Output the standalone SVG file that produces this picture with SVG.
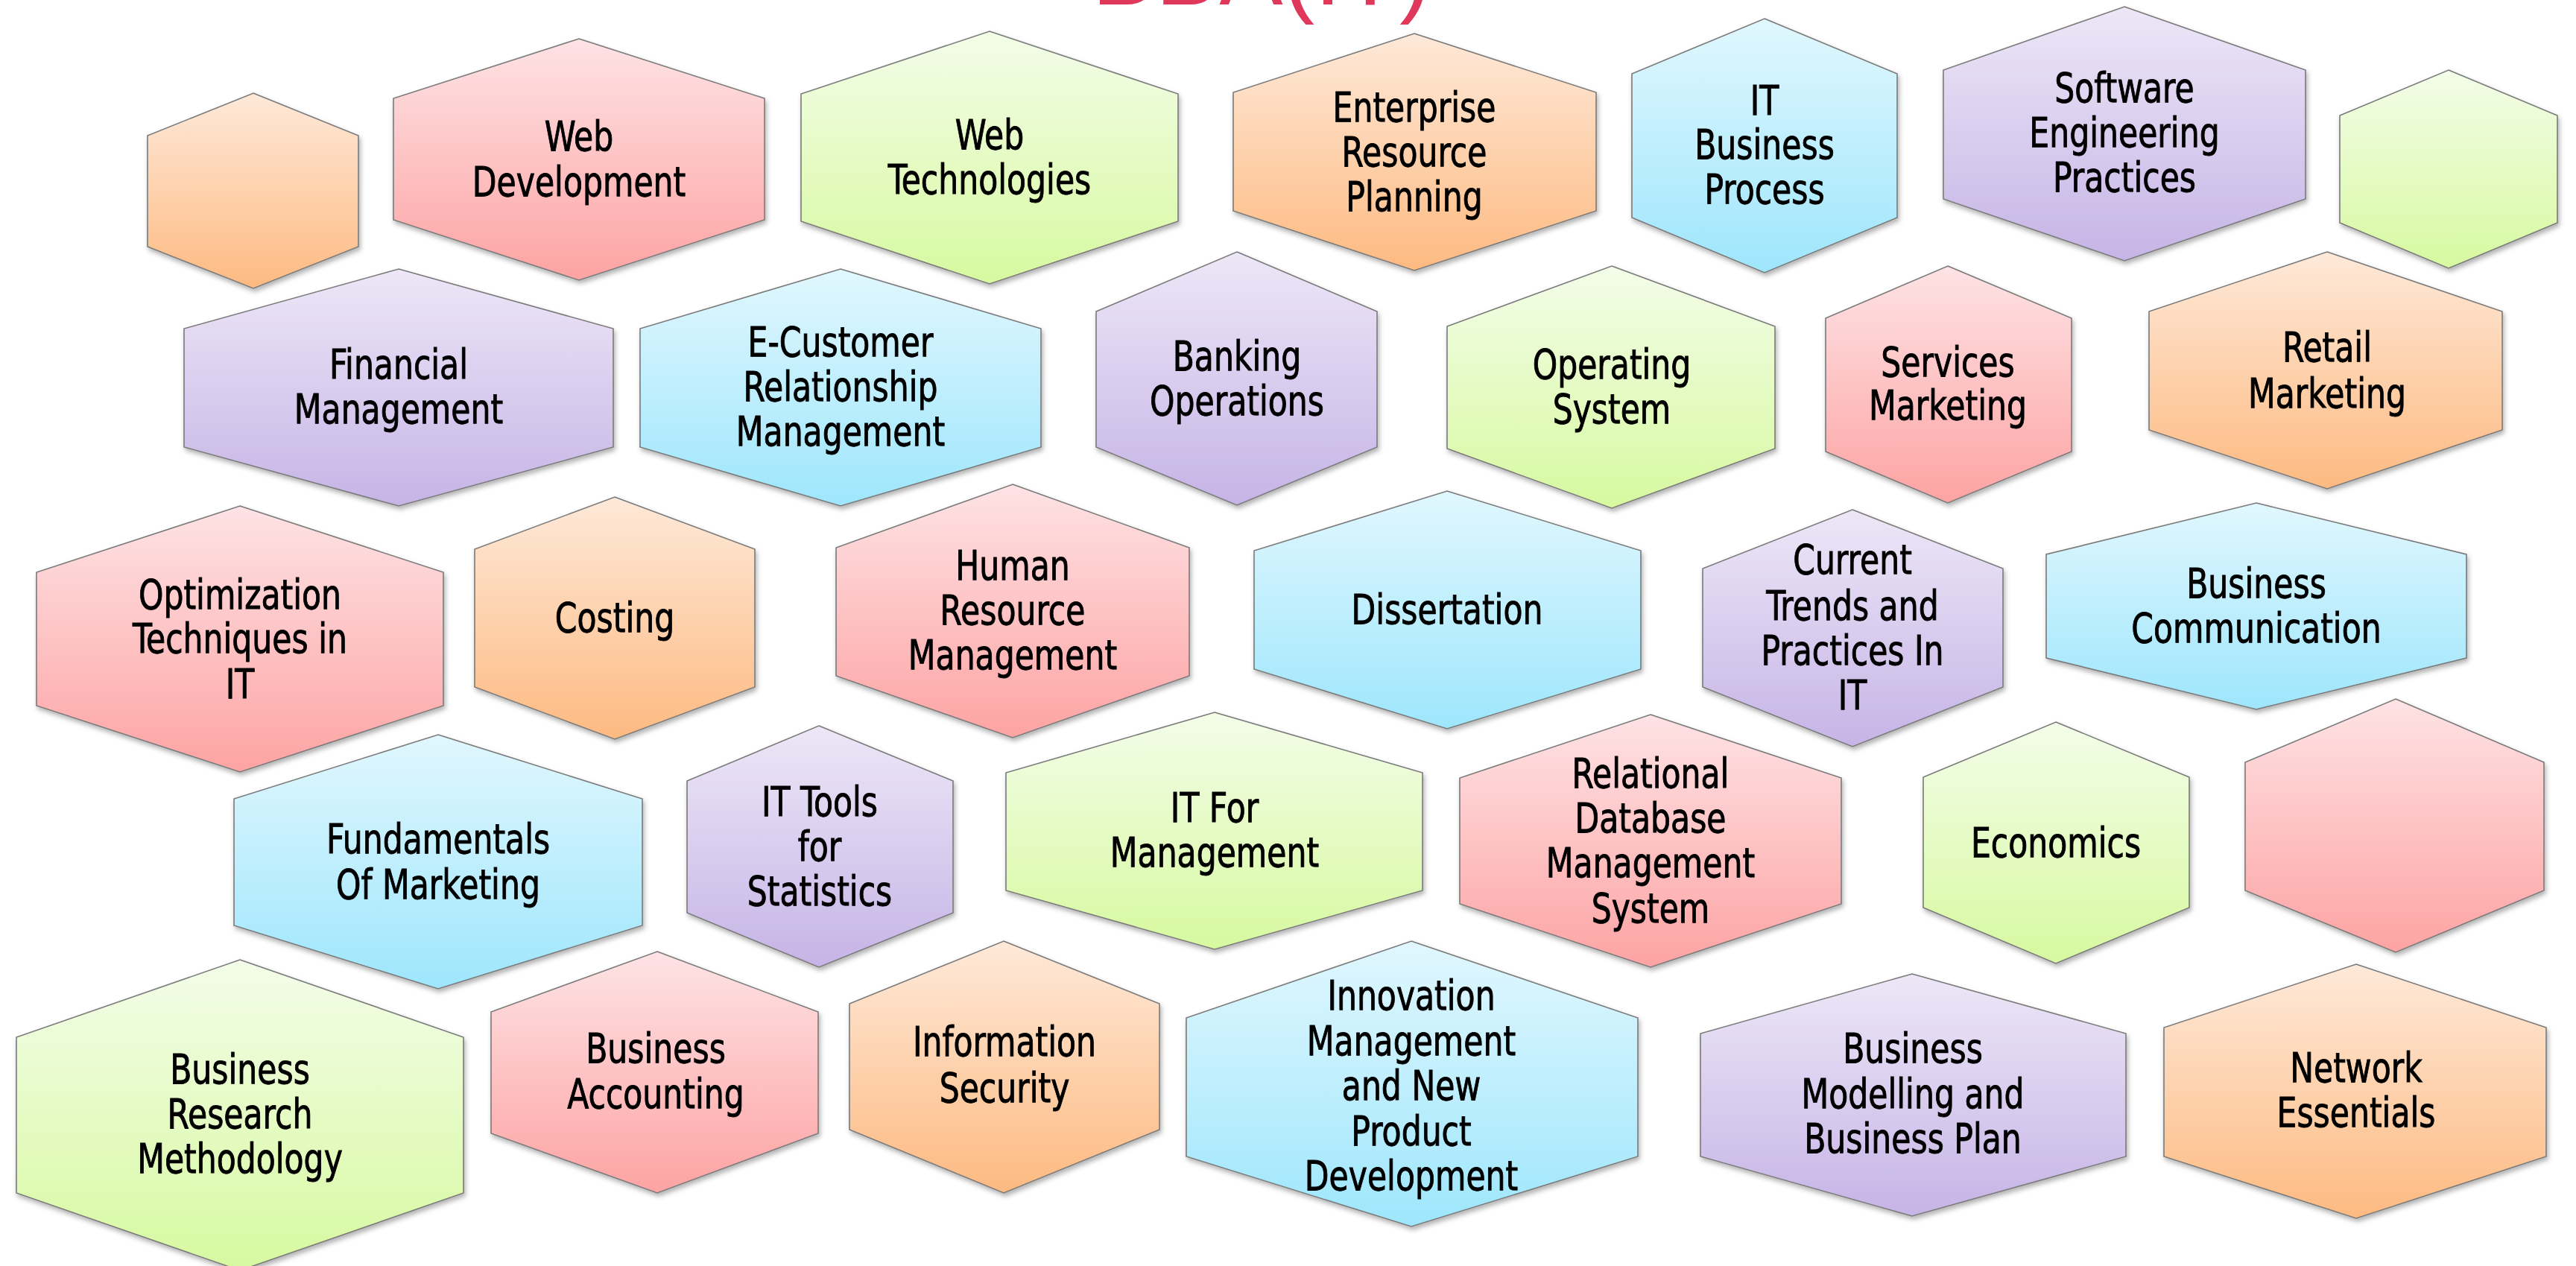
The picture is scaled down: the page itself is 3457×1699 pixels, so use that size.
<svg xmlns="http://www.w3.org/2000/svg" width="3457" height="1699" viewBox="0 0 3457 1699">
<defs>
<linearGradient id="gPink" x1="0" y1="0" x2="0" y2="1"><stop offset="0" stop-color="#FEE3E5"/><stop offset="1" stop-color="#FDA3A3"/></linearGradient>
<linearGradient id="gGreen" x1="0" y1="0" x2="0" y2="1"><stop offset="0" stop-color="#F3FDE9"/><stop offset="1" stop-color="#D7F9A0"/></linearGradient>
<linearGradient id="gOrange" x1="0" y1="0" x2="0" y2="1"><stop offset="0" stop-color="#FEE9D9"/><stop offset="1" stop-color="#FDBA81"/></linearGradient>
<linearGradient id="gBlue" x1="0" y1="0" x2="0" y2="1"><stop offset="0" stop-color="#E1F7FE"/><stop offset="1" stop-color="#9EE6FC"/></linearGradient>
<linearGradient id="gPurple" x1="0" y1="0" x2="0" y2="1"><stop offset="0" stop-color="#EDE7F7"/><stop offset="1" stop-color="#C6B4E6"/></linearGradient>
<filter id="sh" x="-10%" y="-10%" width="120%" height="125%"><feDropShadow dx="2" dy="4" stdDeviation="3" flood-color="#000" flood-opacity="0.3"/></filter>
</defs>
<style>
.hex{stroke:#7a7a7a;stroke-width:1.6;filter:url(#sh)}
.pink{fill:url(#gPink)}.green{fill:url(#gGreen)}.orange{fill:url(#gOrange)}.blue{fill:url(#gBlue)}.purple{fill:url(#gPurple)}
.t{font-family:"DejaVu Sans Condensed","DejaVu Sans",sans-serif;font-stretch:condensed;font-size:55px;fill:#000;stroke:#000;stroke-width:0.9px;text-anchor:middle}
.title{font-family:"Liberation Sans","DejaVu Sans",sans-serif;font-size:128px;fill:#E0385A;text-anchor:middle}
</style>
<rect width="3457" height="1699" fill="#fff"/>
<text class="title" x="1693" y="6">BBA(IT)</text>
<g id="connectors"/>

<g id="n1"><path class="hex orange" d="M340,125 L481,182 L481,331 L340,387 L198,331 L198,182 Z"/></g>
<g id="n2"><path class="hex pink" d="M777,52 L1026,132 L1026,295 L777,376 L528,295 L528,132 Z"/><g transform="translate(777 0) scale(0.86 1)"><text class="t" y="202">Web</text><text class="t" y="263">Development</text></g></g>
<g id="n3"><path class="hex green" d="M1328,42 L1581,126 L1581,297 L1328,381 L1075,297 L1075,126 Z"/><g transform="translate(1328 0) scale(0.86 1)"><text class="t" y="200">Web</text><text class="t" y="260">Technologies</text></g></g>
<g id="n4"><path class="hex orange" d="M1898,45 L2142,124 L2142,283 L1898,363 L1655,283 L1655,124 Z"/><g transform="translate(1898 0) scale(0.86 1)"><text class="t" y="163">Enterprise</text><text class="t" y="223">Resource</text><text class="t" y="283">Planning</text></g></g>
<g id="n5"><path class="hex blue" d="M2368,25 L2546,99 L2546,292 L2368,366 L2190,292 L2190,99 Z"/><g transform="translate(2368 0) scale(0.86 1)"><text class="t" y="154">IT</text><text class="t" y="213">Business</text><text class="t" y="273">Process</text></g></g>
<g id="n6"><path class="hex purple" d="M2851,9 L3094,94 L3094,267 L2851,350 L2608,267 L2608,94 Z"/><g transform="translate(2851 0) scale(0.86 1)"><text class="t" y="137">Software</text><text class="t" y="197">Engineering</text><text class="t" y="257">Practices</text></g></g>
<g id="n7"><path class="hex green" d="M3286,94 L3432,155 L3432,299 L3286,360 L3140,299 L3140,155 Z"/></g>

<g id="n8"><path class="hex purple" d="M535,361 L823,441 L823,600 L535,679 L247,600 L247,441 Z"/><g transform="translate(535 0) scale(0.86 1)"><text class="t" y="508">Financial</text><text class="t" y="568">Management</text></g></g>
<g id="n9"><path class="hex blue" d="M1128,361 L1397,441 L1397,600 L1128,679 L859,600 L859,441 Z"/><g transform="translate(1128 0) scale(0.86 1)"><text class="t" y="478">E-Customer</text><text class="t" y="538">Relationship</text><text class="t" y="598">Management</text></g></g>
<g id="n10"><path class="hex purple" d="M1660,338 L1848,418 L1848,600 L1660,678 L1471,600 L1471,418 Z"/><g transform="translate(1660 0) scale(0.86 1)"><text class="t" y="497">Banking</text><text class="t" y="557">Operations</text></g></g>
<g id="n11"><path class="hex green" d="M2163,357 L2382,438 L2382,602 L2163,682 L1942,602 L1942,438 Z"/><g transform="translate(2163 0) scale(0.86 1)"><text class="t" y="508">Operating</text><text class="t" y="568">System</text></g></g>
<g id="n12"><path class="hex pink" d="M2614,357 L2780,427 L2780,606 L2614,675 L2450,606 L2450,427 Z"/><g transform="translate(2614 0) scale(0.86 1)"><text class="t" y="505">Services</text><text class="t" y="563">Marketing</text></g></g>
<g id="n13"><path class="hex orange" d="M3123,338 L3358,418 L3358,577 L3123,656 L2884,577 L2884,418 Z"/><g transform="translate(3123 0) scale(0.86 1)"><text class="t" y="485">Retail</text><text class="t" y="547">Marketing</text></g></g>

<g id="n14"><path class="hex pink" d="M322,679 L595,768 L595,947 L322,1036 L49,947 L49,768 Z"/><g transform="translate(322 0) scale(0.86 1)"><text class="t" y="817">Optimization</text><text class="t" y="876">Techniques in</text><text class="t" y="937">IT</text></g></g>
<g id="n15"><path class="hex orange" d="M825,667 L1013,737 L1013,922 L825,992 L637,922 L637,737 Z"/><g transform="translate(825 0) scale(0.86 1)"><text class="t" y="848">Costing</text></g></g>
<g id="n16"><path class="hex pink" d="M1359,650 L1596,735 L1596,907 L1359,990 L1122,907 L1122,735 Z"/><g transform="translate(1359 0) scale(0.86 1)"><text class="t" y="778">Human</text><text class="t" y="838">Resource</text><text class="t" y="898">Management</text></g></g>
<g id="n17"><path class="hex blue" d="M1942,659 L2202,739 L2202,898 L1942,978 L1683,898 L1683,739 Z"/><g transform="translate(1942 0) scale(0.86 1)"><text class="t" y="837">Dissertation</text></g></g>
<g id="n18"><path class="hex purple" d="M2486,684 L2688,763 L2688,922 L2486,1002 L2285,922 L2285,763 Z"/><g transform="translate(2486 0) scale(0.86 1)"><text class="t" y="770">Current</text><text class="t" y="832">Trends and</text><text class="t" y="892">Practices In</text><text class="t" y="952">IT</text></g></g>
<g id="n19"><path class="hex blue" d="M3028,675 L3310,744 L3310,883 L3028,952 L2746,883 L2746,744 Z"/><g transform="translate(3028 0) scale(0.86 1)"><text class="t" y="802">Business</text><text class="t" y="862">Communication</text></g></g>

<g id="n20"><path class="hex blue" d="M588,986 L862,1072 L862,1242 L588,1327 L314,1242 L314,1072 Z"/><g transform="translate(588 0) scale(0.86 1)"><text class="t" y="1145">Fundamentals</text><text class="t" y="1206">Of Marketing</text></g></g>
<g id="n21"><path class="hex purple" d="M1099,974 L1279,1048 L1279,1225 L1099,1298 L922,1225 L922,1048 Z"/><g transform="translate(1100 0) scale(0.86 1)"><text class="t" y="1095">IT Tools</text><text class="t" y="1155">for</text><text class="t" y="1215">Statistics</text></g></g>
<g id="n22"><path class="hex green" d="M1630,956 L1909,1037 L1909,1195 L1630,1274 L1350,1195 L1350,1037 Z"/><g transform="translate(1630 0) scale(0.86 1)"><text class="t" y="1103">IT For</text><text class="t" y="1163">Management</text></g></g>
<g id="n23"><path class="hex pink" d="M2215,959 L2471,1044 L2471,1213 L2215,1298 L1959,1213 L1959,1044 Z"/><g transform="translate(2215 0) scale(0.86 1)"><text class="t" y="1057">Relational</text><text class="t" y="1117">Database</text><text class="t" y="1177">Management</text><text class="t" y="1238">System</text></g></g>
<g id="n24"><path class="hex green" d="M2759,969 L2938,1043 L2938,1218 L2759,1293 L2581,1218 L2581,1043 Z"/><g transform="translate(2759 0) scale(0.86 1)"><text class="t" y="1150">Economics</text></g></g>
<g id="n25"><path class="hex pink" d="M3215,938 L3414,1023 L3414,1195 L3215,1278 L3013,1195 L3013,1023 Z"/></g>

<g id="n26"><path class="hex green" d="M322,1288 L622,1392 L622,1601 L322,1705 L22,1601 L22,1392 Z"/><g transform="translate(322 0) scale(0.86 1)"><text class="t" y="1454">Business</text><text class="t" y="1514">Research</text><text class="t" y="1574">Methodology</text></g></g>
<g id="n27"><path class="hex pink" d="M882,1277 L1098,1358 L1098,1521 L882,1601 L659,1521 L659,1358 Z"/><g transform="translate(880 0) scale(0.86 1)"><text class="t" y="1426">Business</text><text class="t" y="1487">Accounting</text></g></g>
<g id="n28"><path class="hex orange" d="M1347,1263 L1556,1347 L1556,1516 L1347,1601 L1140,1516 L1140,1347 Z"/><g transform="translate(1348 0) scale(0.86 1)"><text class="t" y="1417">Information</text><text class="t" y="1479">Security</text></g></g>
<g id="n29"><path class="hex blue" d="M1894,1263 L2198,1366 L2198,1552 L1894,1646 L1592,1552 L1592,1366 Z"/><g transform="translate(1894 0) scale(0.86 1)"><text class="t" y="1355">Innovation</text><text class="t" y="1416">Management</text><text class="t" y="1476">and New</text><text class="t" y="1537">Product</text><text class="t" y="1597">Development</text></g></g>
<g id="n30"><path class="hex purple" d="M2566,1307 L2853,1387 L2853,1552 L2566,1632 L2282,1552 L2282,1387 Z"/><g transform="translate(2567 0) scale(0.86 1)"><text class="t" y="1426">Business</text><text class="t" y="1487">Modelling and</text><text class="t" y="1547">Business Plan</text></g></g>
<g id="n31"><path class="hex orange" d="M3162,1294 L3417,1379 L3417,1552 L3162,1635 L2904,1552 L2904,1379 Z"/><g transform="translate(3162 0) scale(0.86 1)"><text class="t" y="1452">Network</text><text class="t" y="1512">Essentials</text></g></g>
</svg>
